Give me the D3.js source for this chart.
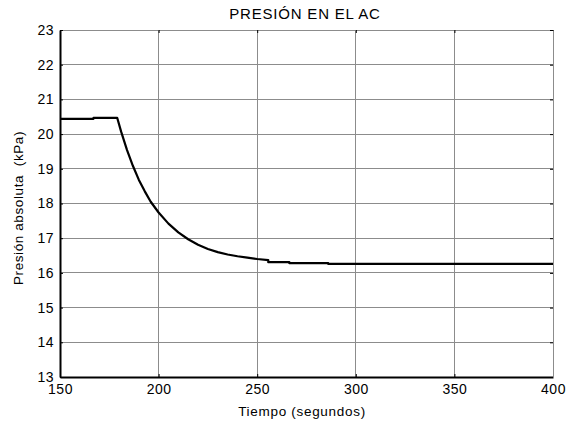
<!DOCTYPE html>
<html>
<head>
<meta charset="UTF-8">
<script src="https://cdn.jsdelivr.net/npm/d3@7"></script>
<style>
body { margin: 0; background: #fff; }
text { font-family: "Liberation Sans", Arial, sans-serif; }
</style>
</head>
<body>
<script>
// data
var tiempo  = [150, 167, 167, 179, 181, 184, 187, 190, 193, 196, 200, 205, 210, 215, 220, 225, 230, 235, 240, 245, 250, 255.6, 255.6, 266.3, 266.3, 286, 286, 400];
var presion = [20.44, 20.44, 20.47, 20.47, 20.07, 19.54, 19.08, 18.68, 18.35, 18.05, 17.74, 17.42, 17.17, 16.97, 16.81, 16.69, 16.60, 16.53, 16.48, 16.44, 16.40, 16.37, 16.31, 16.31, 16.28, 16.28, 16.26, 16.26];
var xTicks = [150, 200, 250, 300, 350, 400];
var yTicks = [13, 14, 15, 16, 17, 18, 19, 20, 21, 22, 23];

var W = 567, H = 423;
var margin = {top: 30, right: 14, bottom: 46, left: 60},
    width = W - margin.left - margin.right,
    height = H - margin.top - margin.bottom;

var svg = d3.select("body").append("svg")
    .attr("width", W)
    .attr("height", H);

var g = svg.append("g")
    .attr("transform", "translate(" + margin.left + "," + margin.top + ")");

var x = d3.scaleLinear().domain([150, 400]).range([0, width]),
    y = d3.scaleLinear().domain([13, 23]).range([height, 0]);

// grid
g.append("g").selectAll("line").data(xTicks).enter().append("line")
    .attr("x1", d => x(d)).attr("x2", d => x(d))
    .attr("y1", 0).attr("y2", height)
    .attr("stroke", "#8c8c8c").attr("stroke-width", 1)
    .attr("shape-rendering", "crispEdges");
g.append("g").selectAll("line").data(yTicks).enter().append("line")
    .attr("y1", d => y(d)).attr("y2", d => y(d))
    .attr("x1", 0).attr("x2", width)
    .attr("stroke", "#8c8c8c").attr("stroke-width", 1)
    .attr("shape-rendering", "crispEdges");

// axes (inward ticks)
var xAxis = g.append("g")
    .attr("transform", "translate(0," + height + ")")
    .call(d3.axisBottom(x).tickValues(xTicks).tickSizeInner(-3).tickSizeOuter(0).tickPadding(7));
var xTop = g.append("g")
    .call(d3.axisTop(x).tickValues(xTicks).tickSizeInner(-3).tickSizeOuter(0).tickFormat(""));
var yAxis = g.append("g")
    .call(d3.axisLeft(y).tickValues(yTicks).tickSizeInner(-3).tickSizeOuter(0).tickPadding(6));
var yRight = g.append("g")
    .attr("transform", "translate(" + width + ",0)")
    .call(d3.axisRight(y).tickValues(yTicks).tickSizeInner(-3).tickSizeOuter(0).tickFormat(""));

[xAxis, yAxis].forEach(function(a) {
  a.select(".domain").attr("stroke", "#000").attr("stroke-width", 2);
  a.selectAll("text").attr("font-size", 14).attr("fill", "#000")
    .attr("letter-spacing", "0.5px")
    .style("font-family", "'Liberation Sans', Arial, sans-serif");
});
[xTop, yRight].forEach(function(a) {
  a.select(".domain").attr("stroke", "#8c8c8c").attr("stroke-width", 1);
});

// line
var line = d3.line()
    .x(function(d, i) { return x(tiempo[i]); })
    .y(function(d) { return y(d); });

g.append("path")
    .datum(presion)
    .attr("fill", "none")
    .attr("stroke", "#000")
    .attr("stroke-width", 2.2)
    .attr("stroke-linejoin", "round")
    .attr("d", line);

// labels
svg.append("text")
    .attr("x", 305).attr("y", 19)
    .attr("text-anchor", "middle").attr("font-size", 15)
    .attr("letter-spacing", "0.8px")
    .text("PRESIÓN EN EL AC");

svg.append("text")
    .attr("x", 302).attr("y", 416)
    .attr("text-anchor", "middle").attr("font-size", 13.5)
    .attr("letter-spacing", "0.7px")
    .text("Tiempo (segundos)");

svg.append("text")
    .attr("transform", "translate(22.5,208) rotate(-90)")
    .attr("text-anchor", "middle").attr("font-size", 13.5)
    .attr("letter-spacing", "0.6px")
    .style("white-space", "pre")
    .text("Presión absoluta  (kPa)");
</script>
</body>
</html>
